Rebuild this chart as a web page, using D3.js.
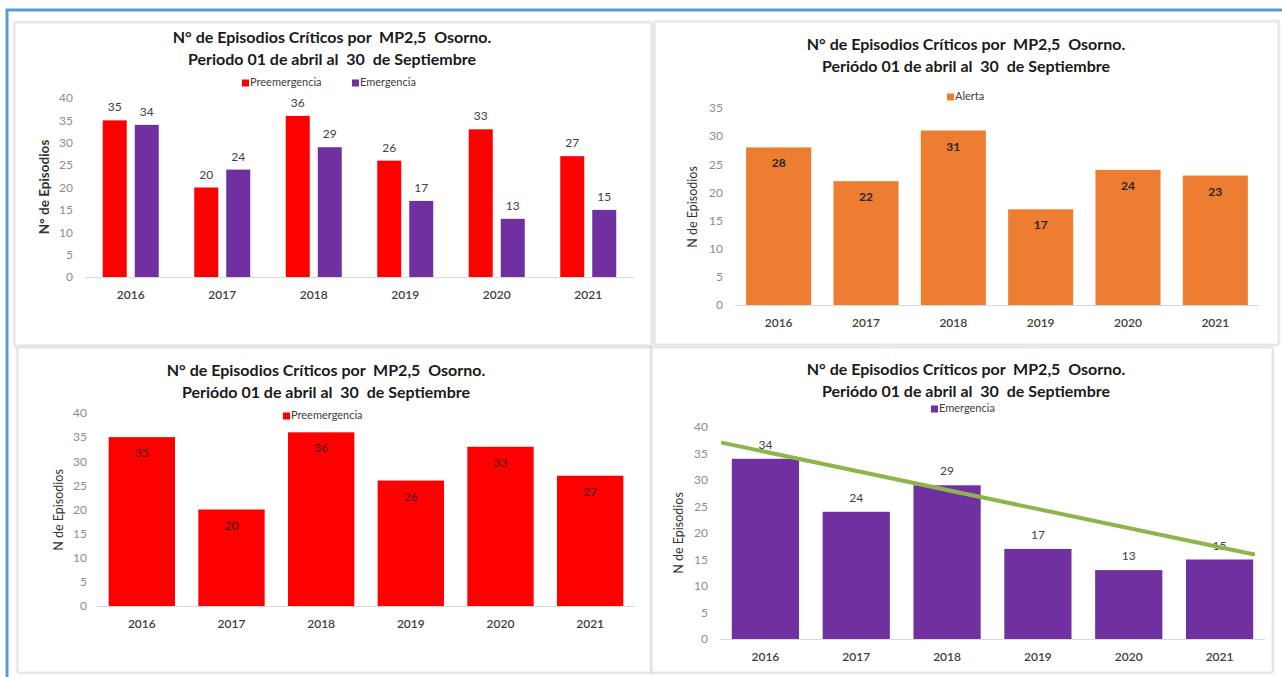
<!DOCTYPE html>
<html>
<head>
<meta charset="utf-8">
<script src="https://cdn.jsdelivr.net/npm/d3@7"></script>
<style>
  html, body { margin: 0; padding: 0; background: #ffffff; }
  svg { display: block; }
  text { font-family: Lato, "Open Sans", sans-serif; white-space: pre; }
</style>
</head>
<body>
<svg id="chart" width="1282" height="677"></svg>
<script>
// ---------- DATA ----------
const years = ["2016", "2017", "2018", "2019", "2020", "2021"];
const preemergencia = [35, 20, 36, 26, 33, 27];
const emergencia = [34, 24, 29, 17, 13, 15];
const alerta = [28, 22, 31, 17, 24, 23];
const ticks40 = [0, 5, 10, 15, 20, 25, 30, 35, 40];
const ticks35 = [0, 5, 10, 15, 20, 25, 30, 35];
const trendline = [37, 16]; // hand-drawn trend: value at start (2016) and end (2021)

const titleLine1 = "N° de Episodios Críticos por  MP2,5  Osorno.";
const titleLine2a = "Periodo 01 de abril al  30  de Septiembre";
const titleLine2b = "Periódo 01 de abril al  30  de Septiembre";

const colors = { pre: "#ff0000", emer: "#7030a0", alerta: "#ed7d31", trend: "#8db54b" };

const svg = d3.select("#chart");

// outer blue frame (continues beyond right/bottom edges)
svg.append("rect")
  .attr("x", 7).attr("y", 10).attr("width", 1300).attr("height", 700)
  .attr("fill", "none").attr("stroke", "#5b9bd5").attr("stroke-width", 3);

const defs = svg.append("defs");
const f = defs.append("filter").attr("id", "blur").attr("x", "-5%").attr("y", "-5%").attr("width", "110%").attr("height", "110%");
f.append("feGaussianBlur").attr("stdDeviation", 1.2);

function panel(cfg) {
  const g = svg.append("g");
  g.append("rect")
    .attr("x", cfg.box[0]).attr("y", cfg.box[1])
    .attr("width", cfg.box[2] - cfg.box[0]).attr("height", cfg.box[3] - cfg.box[1])
    .attr("fill", "#fff").attr("stroke", "#d4d4d4").attr("stroke-width", 2.5)
    .attr("filter", "url(#blur)");
  g.append("rect")
    .attr("x", cfg.box[0]).attr("y", cfg.box[1])
    .attr("width", cfg.box[2] - cfg.box[0]).attr("height", cfg.box[3] - cfg.box[1])
    .attr("fill", "#fff").attr("stroke", "#e6e6e6").attr("stroke-width", 1);

  const x = d3.scaleBand().domain(years).range([cfg.plot[0], cfg.plot[1]])
    .paddingInner(cfg.pad).paddingOuter(cfg.pad / 2);
  const y = d3.scaleLinear().domain([0, cfg.yMax]).range([cfg.plot[2], cfg.plot[3]]);

  [titleLine1, cfg.title2].forEach((t, i) => {
    g.append("text").attr("x", cfg.titleX).attr("y", cfg.titleY[i])
      .attr("xml:space", "preserve")
      .attr("text-anchor", "middle").attr("dominant-baseline", "middle")
      .attr("font-size", 16).attr("font-weight", "bold").attr("fill", "#1a1a1a")
      .text(t);
  });

  cfg.legend.forEach(l => {
    g.append("rect").attr("x", l.x - 3).attr("y", cfg.legendY - 3.5).attr("width", 7).attr("height", 7).attr("fill", l.color);
    g.append("text").attr("x", l.x + 5).attr("y", cfg.legendY)
      .attr("dominant-baseline", "middle").attr("font-size", 11).attr("fill", "#404040")
      .text(l.name);
  });

  const yAxis = d3.axisLeft(y).tickValues(cfg.ticks).tickSize(0).tickPadding(0);
  const ya = g.append("g").attr("transform", `translate(${cfg.tickX},0)`).call(yAxis);
  ya.select(".domain").remove();
  ya.selectAll("text").attr("font-size", 12).attr("fill", "#8c8c8c").attr("font-family", "Lato, sans-serif");

  g.append("text")
    .attr("transform", `translate(${cfg.yLabel[0]},${cfg.yLabel[1]}) rotate(-90)`)
    .attr("text-anchor", "middle").attr("dominant-baseline", "middle")
    .attr("font-size", cfg.yLabelBold ? 13.5 : 12.5).attr("font-weight", cfg.yLabelBold ? "bold" : "normal")
    .attr("fill", "#333333").text(cfg.yLabelText);

  const n = cfg.series.length;
  cfg.series.forEach((s, si) => {
    let bw, offs;
    if (n === 1) { bw = x.bandwidth(); offs = 0; }
    else {
      bw = cfg.barW; const gap = cfg.barGap;
      const total = n * bw + (n - 1) * gap;
      offs = (x.bandwidth() - total) / 2 + si * (bw + gap);
    }
    g.selectAll(null).data(s.values).enter().append("rect")
      .attr("x", (d, i) => x(years[i]) + offs)
      .attr("y", d => y(d))
      .attr("width", bw)
      .attr("height", d => y(0) - y(d))
      .attr("fill", s.color);
    g.selectAll(null).data(s.values).enter().append("text")
      .attr("x", (d, i) => x(years[i]) + offs + bw / 2)
      .attr("y", d => y(d) + cfg.labelDy)
      .attr("text-anchor", "middle").attr("dominant-baseline", "middle")
      .attr("font-size", 12).attr("font-weight", cfg.labelBold ? "bold" : "normal")
      .attr("fill", cfg.labelColor)
      .text(d => d);
  });

  g.append("line").attr("x1", cfg.plot[0]).attr("x2", cfg.plot[1])
    .attr("y1", y(0) + 0.5).attr("y2", y(0) + 0.5).attr("stroke", "#d9d9d9").attr("stroke-width", 1.2);

  const xAxis = d3.axisBottom(x).tickSize(0).tickPadding(0);
  const xa = g.append("g").attr("transform", `translate(0,${cfg.yearY})`).call(xAxis);
  xa.select(".domain").remove();
  xa.selectAll("text").attr("font-size", 12).attr("fill", "#404040").attr("dy", "0.35em")
    .attr("font-family", "Lato, sans-serif").attr("font-weight", "600");

  return { g, x, y };
}

panel({
  box: [15, 23, 651, 345], plot: [85, 634, 277, 98], yMax: 40, pad: 0.4,
  barW: 24, barGap: 8,
  titleX: 332, titleY: [39, 61], title2: titleLine2a,
  legendY: 83, legend: [{ x: 245, color: colors.pre, name: "Preemergencia" }, { x: 355, color: colors.emer, name: "Emergencia" }],
  ticks: ticks40, tickX: 73, yLabel: [46, 187], yLabelBold: true, yLabelText: "N° de Episodios",
  series: [{ values: preemergencia, color: colors.pre }, { values: emergencia, color: colors.emer }],
  labelDy: -12, labelBold: false, labelColor: "#404040", yearY: 295
});

panel({
  box: [655, 22, 1278, 344], plot: [735, 1259, 305, 108], yMax: 35, pad: 0.255,
  titleX: 966, titleY: [46, 68], title2: titleLine2b,
  legendY: 97, legend: [{ x: 950, color: colors.alerta, name: "Alerta" }],
  ticks: ticks35, tickX: 723, yLabel: [694, 207], yLabelBold: false, yLabelText: "N de Episodios",
  series: [{ values: alerta, color: colors.alerta }],
  labelDy: 17, labelBold: true, labelColor: "#262626", yearY: 323
});

panel({
  box: [18, 348, 651, 672], plot: [97, 635, 606, 413], yMax: 40, pad: 0.26,
  titleX: 326, titleY: [372, 394], title2: titleLine2b,
  legendY: 416, legend: [{ x: 286, color: colors.pre, name: "Preemergencia" }],
  ticks: ticks40, tickX: 87, yLabel: [60, 510], yLabelBold: false, yLabelText: "N de Episodios",
  series: [{ values: preemergencia, color: colors.pre }],
  labelDy: 17, labelBold: false, labelColor: "#3a1a1a", yearY: 624
});

const br = panel({
  box: [652, 348, 1272, 672], plot: [720, 1265, 639, 427], yMax: 40, pad: 0.26,
  titleX: 966, titleY: [371, 393], title2: titleLine2b,
  legendY: 409, legend: [{ x: 934, color: colors.emer, name: "Emergencia" }],
  ticks: ticks40, tickX: 708, yLabel: [680, 533], yLabelBold: false, yLabelText: "N de Episodios",
  series: [{ values: emergencia, color: colors.emer }],
  labelDy: -13, labelBold: false, labelColor: "#404040", yearY: 657
});
const tx0 = br.x(years[0]) - 9;
const tx1 = br.x(years[years.length - 1]) + br.x.bandwidth();
br.g.append("line")
  .attr("x1", tx0).attr("y1", br.y(trendline[0]))
  .attr("x2", tx1).attr("y2", br.y(trendline[1]))
  .attr("stroke", colors.trend).attr("stroke-width", 4).attr("stroke-linecap", "round");
</script>
</body>
</html>
